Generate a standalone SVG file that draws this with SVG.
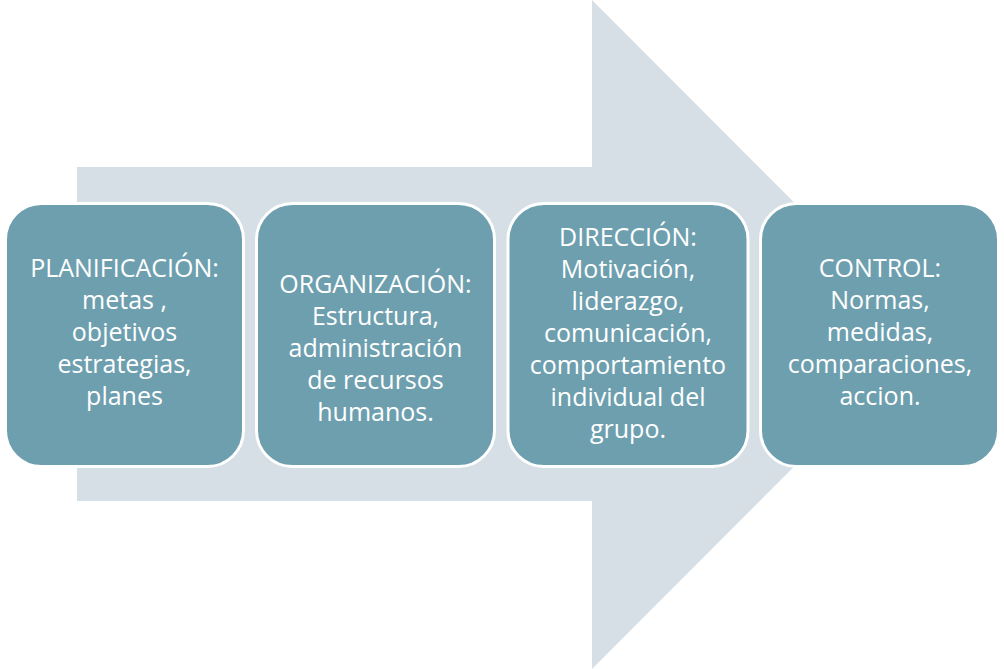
<svg xmlns="http://www.w3.org/2000/svg" width="1004" height="669" viewBox="0 0 1004 669">
<style>
.box{fill:#6e9faf;stroke:#ffffff;stroke-width:3}
.lbl{font-family:"Open Sans","Liberation Sans",sans-serif;font-size:25px;fill:#ffffff;text-anchor:middle}
</style>
<rect width="1004" height="669" fill="#ffffff"/>
<g id="connectors">
<polygon points="77,167 592,167 592,0 926,334.5 592,669 592,501 77,501" fill="#d6dfe5"/>
</g>
<g id="planificacion">
<rect class="box" x="5.5" y="203.5" width="238" height="263" rx="36"/>
<text class="lbl" x="124.5"><tspan x="124.5" y="277">PLANIFICACIÓN:</tspan><tspan x="124.5" y="309">metas ,</tspan><tspan x="124.5" y="341">objetivos</tspan><tspan x="124.5" y="373">estrategias,</tspan><tspan x="124.5" y="405">planes</tspan></text>
</g>
<g id="organizacion">
<rect class="box" x="256.5" y="203.5" width="238" height="263" rx="36"/>
<text class="lbl"><tspan x="375.5" y="293">ORGANIZACIÓN:</tspan><tspan x="375.5" y="325">Estructura,</tspan><tspan x="375.5" y="357">administración</tspan><tspan x="375.5" y="389">de recursos</tspan><tspan x="375.5" y="421">humanos.</tspan></text>
</g>
<g id="direccion">
<rect class="box" x="508" y="203.5" width="240" height="263" rx="36"/>
<text class="lbl"><tspan x="628" y="246">DIRECCIÓN:</tspan><tspan x="628" y="278">Motivación,</tspan><tspan x="628" y="310">liderazgo,</tspan><tspan x="628" y="342">comunicación,</tspan><tspan x="628" y="374">comportamiento</tspan><tspan x="628" y="406">individual del</tspan><tspan x="628" y="438">grupo.</tspan></text>
</g>
<g id="control">
<rect class="box" x="760.5" y="203.5" width="238" height="263" rx="36"/>
<text class="lbl"><tspan x="880" y="277">CONTROL:</tspan><tspan x="880" y="309">Normas,</tspan><tspan x="880" y="341">medidas,</tspan><tspan x="880" y="373">comparaciones,</tspan><tspan x="880" y="405">accion.</tspan></text>
</g>
</svg>
